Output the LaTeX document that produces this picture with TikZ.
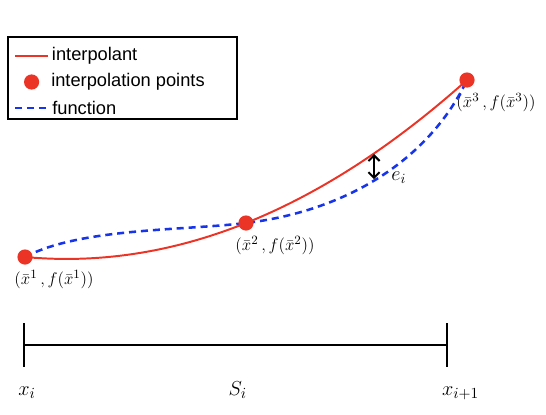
\documentclass[tikz,border=0pt]{standalone}
\usepackage{fontspec}
\setmainfont{Liberation Sans}
\usetikzlibrary{positioning,arrows.meta,calc}
\definecolor{interpred}{RGB}{236,52,38}
\definecolor{funcblue}{RGB}{22,52,236}
\tikzset{
    ipt/.style={circle, fill=interpred, inner sep=0pt, minimum size=0.38cm},
    interp/.style={interpred, line width=1.4pt},
    func/.style={funcblue, line width=1.8pt, dash pattern=on 5pt off 3.5pt},
    ptlabel/.style={font=\fontsize{12.5}{14}\selectfont, inner sep=0pt},
    axlabel/.style={font=\fontsize{15}{17}\selectfont, inner sep=0pt, anchor=base west},
    legtext/.style={font=\fontsize{13}{15}\selectfont, text=black, anchor=west, inner sep=0pt}
}
\begin{document}
\begin{tikzpicture}
    \useasboundingbox (0,0) rectangle (13.65,10.35);

    \coordinate (p1) at (0.625,3.925);
    \coordinate (p2) at (6.15,4.775);
    \coordinate (p3) at (11.675,8.35);

    % function and interpolant
    \draw[func] (p1) .. controls (2.0,4.65) and (4.5,4.58) .. (p2)
                     .. controls (8.6,5.07) and (10.7,6.3) .. (p3);
    \draw[interp] (p1) .. controls (4.308,3.583) and (7.992,5.058) .. (p3);

    \node[ipt] (x1) at (p1) {};
    \node[ipt] (x2) at (p2) {};
    \node[ipt] (x3) at (p3) {};

    \node[ptlabel, anchor=north west] (l1) at ([shift={(-0.27,-0.33)}] x1) {$(\bar{x}^1\,, f(\bar{x}^1))$};
    \node[ptlabel, anchor=north west] (l2) at ([shift={(-0.27,-0.33)}] x2) {$(\bar{x}^2\,, f(\bar{x}^2))$};
    \node[ptlabel, anchor=north west] (l3) at ([shift={(-0.27,-0.33)}] x3) {$(\bar{x}^3\,, f(\bar{x}^3))$};

    % error
    \coordinate (etop) at (9.35,6.5);
    \coordinate (ebot) at (9.35,5.87);
    \draw[line width=1.4pt, {Straight Barb[length=4pt,width=8pt]}-{Straight Barb[length=4pt,width=8pt]}] (etop) -- (ebot);
    \node[font=\fontsize{14}{16}\selectfont] (err) at (9.97,5.9) {$e_i$};

    % segment
    \coordinate (s1) at (0.6,1.725);
    \coordinate (s2) at (11.175,1.725);
    \draw[line width=1.3pt] (s1) -- (s2);
    \draw[line width=1.3pt] ([yshift=0.55cm] s1) -- ([yshift=-0.55cm] s1);
    \draw[line width=1.3pt] ([yshift=0.55cm] s2) -- ([yshift=-0.55cm] s2);
    \node[axlabel] (xi) at ([shift={(-0.15,-1.25)}] s1) {$x_i$};
    \node[axlabel] (si) at ([shift={(-0.18,-1.25)}] $(s1)!0.5!(s2)$) {$S_i$};
    \node[axlabel] (xj) at ([shift={(-0.13,-1.25)}] s2) {$x_{i+1}$};

    % legend
    \draw[line width=0.8pt] (0.2,7.375) rectangle (5.925,9.425);
    \coordinate (r1) at (0.375,8.95);
    \coordinate (r2) at (0.375,8.3);
    \coordinate (r3) at (0.375,7.65);
    \draw[interp] (r1) -- ++(0.825,0) node[legtext, right=0.075cm] (t1) {interpolant};
    \node[ipt] (d2) at ([xshift=0.415cm] r2) {};
    \node[legtext] (t2) at ([xshift=0.9cm] r2) {interpolation points};
    \draw[func] (r3) -- ++(0.825,0) node[legtext, right=0.075cm] (t3) {function};
\end{tikzpicture}
\end{document}
